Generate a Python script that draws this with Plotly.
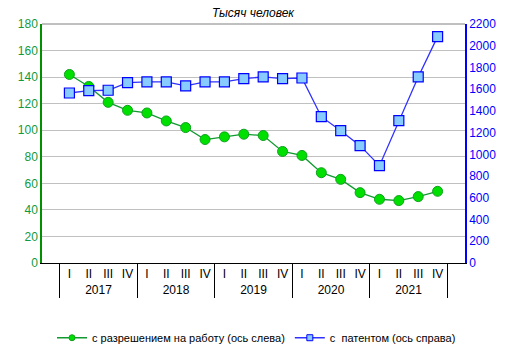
import plotly.graph_objects as go

years = ["2017"] * 4 + ["2018"] * 4 + ["2019"] * 4 + ["2020"] * 4 + ["2021"] * 4
quarters = ["I", "II", "III", "IV"] * 5
permit = [142, 133, 121, 115, 113, 107, 102, 93, 95, 97, 96, 84, 81, 68, 63, 53, 48, 47, 50, 54]
patent = [1565, 1587, 1590, 1660, 1667, 1667, 1630, 1667, 1667, 1697, 1713, 1697, 1703,
          1347, 1218, 1080, 896, 1310, 1713, 2084]

name_permit = "с разрешением на работу (ось слева)"
name_patent = "с  патентом (ось справа)"

g_line = dict(color="#109a30", width=1.3)
b_line = dict(color="#3030ff", width=1.3)

fig = go.Figure()
fig.add_trace(go.Scatter(
    x=[years, quarters], y=permit, name=name_permit, mode="lines+markers",
    line=g_line, showlegend=False,
    marker=dict(symbol="circle", size=10, color="#00e000", line=dict(color="#10a020", width=1)),
    yaxis="y"))
fig.add_trace(go.Scatter(
    x=[years, quarters], y=patent, name=name_patent, mode="lines+markers",
    line=b_line, showlegend=False,
    marker=dict(symbol="square", size=10, color="#88ccff", line=dict(color="#0000ff", width=1.2)),
    yaxis="y2"))
# legend entries with small symbols
fig.add_trace(go.Scatter(
    x=[[years[0]], [quarters[0]]], y=[None], name=name_permit, mode="lines+markers",
    line=g_line, marker=dict(symbol="circle", size=6, color="#00e000", line=dict(color="#10a020", width=1)),
    yaxis="y"))
fig.add_trace(go.Scatter(
    x=[[years[0]], [quarters[0]]], y=[None], name=name_patent, mode="lines+markers",
    line=b_line, marker=dict(symbol="square", size=6, color="#88ccff", line=dict(color="#0000ff", width=1)),
    yaxis="y2"))

fig.update_layout(
    width=513, height=354,
    margin=dict(l=42, r=48, t=24, b=91, autoexpand=False),
    paper_bgcolor="white", plot_bgcolor="white",
    font=dict(family="Liberation Sans, Arial", size=12, color="black"),
    showlegend=True,
    legend=dict(orientation="h", xref="container", yref="container",
                x=0.5, xanchor="center", y=0.005, yanchor="bottom",
                font=dict(size=11), tracegroupgap=0),
    xaxis=dict(type="multicategory", showline=True, linecolor="black", linewidth=1,
               showgrid=False, dividercolor="black", dividerwidth=1, ticks="",
               tickfont=dict(size=12), mirror=False, automargin=False),
    yaxis=dict(range=[0, 180], dtick=20, showgrid=True, gridcolor="#c0c0c0", gridwidth=1,
               showline=True, linecolor="#009000", linewidth=1.5, ticks="",
               tickfont=dict(color="#109a40", size=12), zeroline=False, automargin=False),
    yaxis2=dict(range=[0, 2200], dtick=200, overlaying="y", side="right", showgrid=False,
                showline=True, linecolor="#0000ff", linewidth=1.5, ticks="",
                tickfont=dict(color="#0000ff", size=12), zeroline=False, automargin=False),
    shapes=[dict(type="line", xref="paper", yref="paper", x0=0, x1=1, y0=1, y1=1,
                 line=dict(color="#808080", width=1))],
    annotations=[dict(text="<i>Тысяч человек</i>", xref="paper", yref="paper",
                      x=0.5, y=1.0, yanchor="bottom", yshift=2, showarrow=False,
                      font=dict(size=12, color="black"))],
)

fig.write_html("out.html")
